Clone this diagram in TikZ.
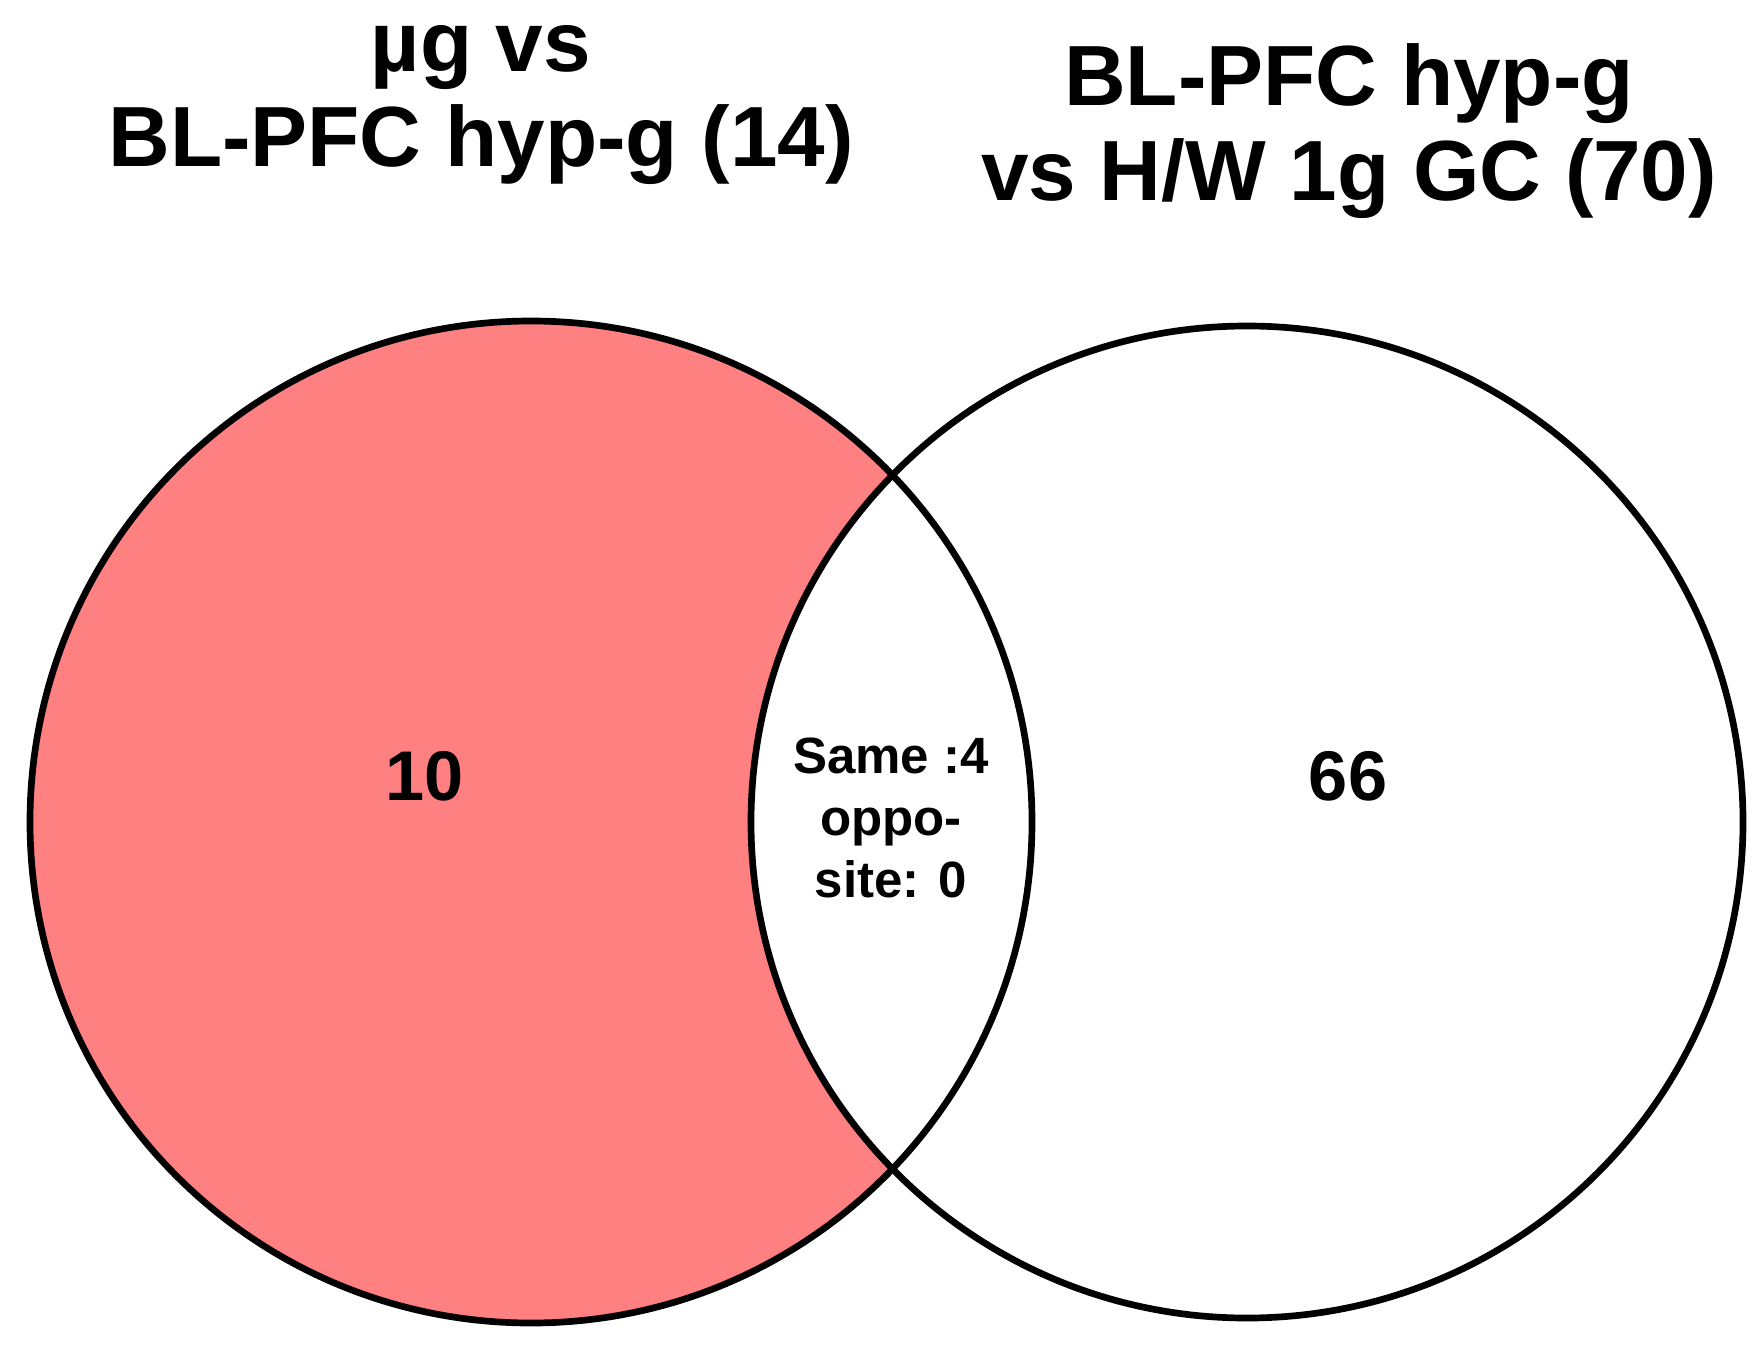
\documentclass[tikz,border=0pt]{standalone}
\usepackage{fontspec}
\setmainfont{Liberation Sans}
\definecolor{vennred}{RGB}{255,128,128}
\begin{document}
\begin{tikzpicture}[x=0.01cm,y=0.01cm,
        ring/.style={line width=1.9pt},
        settitle/.style={font=\fontsize{24.3}{27}\selectfont\bfseries,align=center},
        count/.style={font=\fontsize{20}{24}\selectfont\bfseries},
        shared/.style={font=\fontsize{14.5}{17.6}\selectfont\bfseries,align=center}]
                \useasboundingbox (0,0) rectangle (1764,1344);
                \fill[vennred] (531,522) circle (501);
                \fill[white] (1247,522) circle (496);
                \draw[ring] (531,522) circle (501);
                \draw[ring] (1247,522) circle (496);
                \node[settitle,anchor=base] (lefttitle) at (481,1178) {µg vs\\BL-PFC hyp-g (14)};
                \node[settitle,anchor=base] (righttitle) at (1349,1144) {BL-PFC hyp-g\\vs H/W 1g GC (70)};
                \node[count] (leftonly) at (425,568) {10};
                \node[count] (rightonly) at (1348,568) {66};
                \node[shared] (overlap) at (891,526) {Same :4\\oppo-\\site: 0};
\end{tikzpicture}
\end{document}
